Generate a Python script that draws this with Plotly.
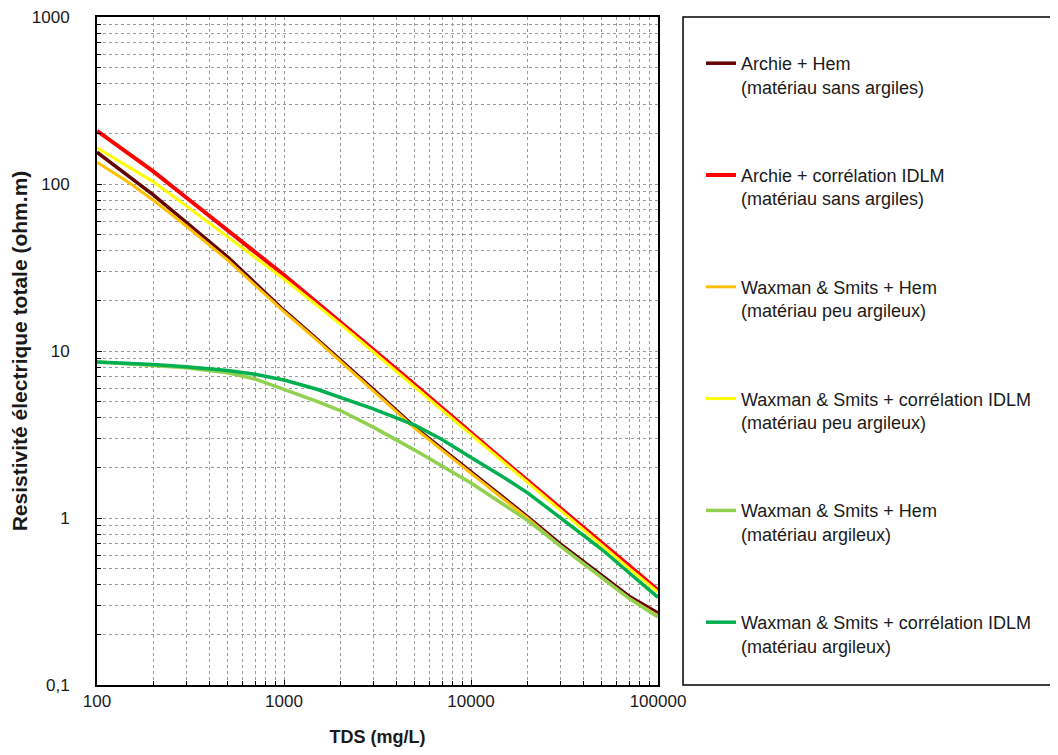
"""
Résistivité électrique totale vs TDS – six modèles (log-log).
"""

import plotly.graph_objects as go

# ── Data ─────────────────────────────────────────────────────────────────────

tds = [100, 150, 200, 300, 500, 700, 1000, 1500, 2000, 3000, 5000, 7000,
       10000, 15000, 20000, 30000, 50000, 70000, 100000]

archie_hem = [155, 110, 86, 59, 36.5, 25.5, 17.5, 11.8, 8.9, 5.9, 3.5, 2.6,
              1.9, 1.32, 1.02, 0.7, 0.45, 0.34, 0.27]
archie_idlm = [208, 150, 119, 83, 53, 39.2, 28.5, 19.5, 15, 10.2, 6.3, 4.55,
               3.25, 2.2, 1.68, 1.14, 0.71, 0.52, 0.37]
ws_hem_peu = [135, 101, 80, 56, 35, 24.8, 17.2, 11.6, 8.7, 5.8, 3.45, 2.55,
              1.86, 1.29, 1.0, 0.68, 0.44, 0.33, 0.26]
ws_idlm_peu = [165, 126, 103, 74, 48.5, 36.5, 27, 18.8, 14.5, 9.9, 6.1, 4.45,
               3.15, 2.15, 1.64, 1.11, 0.69, 0.5, 0.36]
ws_hem_arg = [8.6, 8.4, 8.2, 7.95, 7.4, 6.8, 5.9, 5.0, 4.4, 3.5, 2.55, 2.05,
              1.62, 1.2, 0.97, 0.68, 0.44, 0.33, 0.255]
ws_idlm_arg = [8.6, 8.45, 8.3, 8.05, 7.65, 7.25, 6.7, 5.9, 5.3, 4.5, 3.6, 2.95,
               2.3, 1.75, 1.42, 1.0, 0.65, 0.47, 0.335]

series = [
    ("Archie + Hem<br>(matériau sans argiles)", archie_hem, "#660000", 3.5),
    ("Archie + corrélation IDLM<br>(matériau sans argiles)", archie_idlm, "#FF0000", 4),
    ("Waxman & Smits + Hem<br>(matériau peu argileux)", ws_hem_peu, "#FFC000", 3),
    ("Waxman & Smits + corrélation IDLM<br>(matériau peu argileux)", ws_idlm_peu, "#FFFF00", 3),
    ("Waxman & Smits + Hem<br>(matériau argileux)", ws_hem_arg, "#92D050", 3.5),
    ("Waxman & Smits + corrélation IDLM<br>(matériau argileux)", ws_idlm_arg, "#00B050", 3.5),
]

x_ticks = [100, 1000, 10000, 100000]
x_labels = ["100", "1000", "10000", "100000"]
y_ticks = [0.1, 1, 10, 100, 1000]
y_labels = ["0,1", "1", "10", "100", "1000"]

_FONT = "Liberation Sans, Arial, sans-serif"
_GRID = "#9a9a9a"
_TEXT = "#1a1a1a"

# ── Figure ───────────────────────────────────────────────────────────────────

fig = go.Figure()
for i, (name, values, color, width) in enumerate(series):
    fig.add_trace(
        go.Scatter(
            x=tds,
            y=values,
            mode="lines",
            name=name,
            legendgroup=f"g{i}",
            line=dict(color=color, width=width),
        )
    )

axis_common = dict(
    type="log",
    showline=True,
    linecolor="black",
    linewidth=2,
    mirror=True,
    showgrid=True,
    gridcolor=_GRID,
    griddash="dot",
    gridwidth=1,
    ticks="inside",
    ticklen=5,
    tickcolor="black",
    tickfont=dict(family=_FONT, size=17, color=_TEXT),
    ticklabeloverflow="allow",
    minor=dict(
        dtick="D1",
        ticks="inside",
        ticklen=4,
        tickcolor="black",
        showgrid=True,
        gridcolor=_GRID,
        griddash="dot",
        gridwidth=1,
    ),
    zeroline=False,
    automargin=False,
)

fig.update_xaxes(
    **axis_common,
    range=[2, 5],
    tickvals=x_ticks,
    ticktext=x_labels,
    ticklabelstandoff=0,
    title=dict(text="TDS (mg/L)", standoff=20,
               font=dict(family=_FONT, size=18, weight="bold", color=_TEXT)),
)
fig.update_yaxes(
    **axis_common,
    range=[-1, 3],
    tickvals=y_ticks,
    ticktext=y_labels,
    ticklabelstandoff=22,
    title=dict(text="Resistivité électrique totale (ohm.m)", standoff=6,
               font=dict(family=_FONT, size=21, weight="bold", color=_TEXT)),
)

# legend frame
fig.add_shape(
    type="rect", xref="paper", yref="paper",
    x0=1.0446, x1=1.75, y0=0, y1=1,
    line=dict(color="black", width=1.5), fillcolor="rgba(0,0,0,0)",
)

fig.update_layout(
    width=1058,
    height=755,
    paper_bgcolor="white",
    plot_bgcolor="white",
    margin=dict(l=89, r=408, t=9, b=78),
    font=dict(family=_FONT, size=13, color=_TEXT),
    legend=dict(
        xref="container", yref="container",
        x=693 / 1058, y=1 - 37 / 755,
        xanchor="left", yanchor="top",
        maxheight=1,
        bgcolor="rgba(0,0,0,0)",
        borderwidth=0,
        tracegroupgap=62,
        valign="top",
        font=dict(family=_FONT, size=18, color=_TEXT),
    ),
)

fig.write_html("out.html")
